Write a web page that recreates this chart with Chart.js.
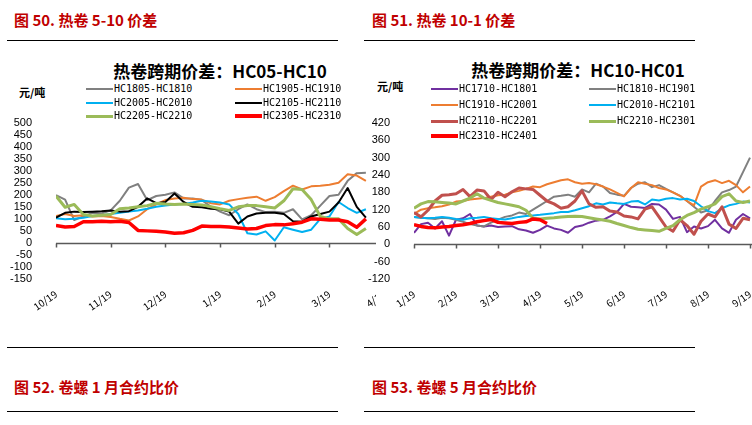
<!DOCTYPE html>
<html>
<head>
<meta charset="utf-8">
<script src="https://cdn.jsdelivr.net/npm/chart.js@4.4.0/dist/chart.umd.min.js"></script>
<style>
html, body { margin: 0; padding: 0; background: #fff; }
body { width: 752px; height: 425px; position: relative; overflow: hidden; font-family: "Noto Sans CJK SC", sans-serif; }
.hd { position: absolute; color: #c00000; font-weight: bold; font-size: 15px; line-height: 16px; white-space: nowrap; }
.rule { position: absolute; height: 0; border-top: 1.5px solid #000; }
.ttl { position: absolute; font-weight: bold; font-size: 17px; line-height: 20px; white-space: nowrap; transform: translateX(-50%); }
.unit { position: absolute; font-weight: bold; font-size: 11px; line-height: 14px; white-space: nowrap; }
.lg { position: absolute; font-family: "DejaVu Sans Mono", monospace; font-size: 10px; line-height: 12px; white-space: nowrap; }
.lg i { display: inline-block; width: 27px; vertical-align: middle; margin-right: 1px; }
.box { position: absolute; overflow: hidden; }
</style>
</head>
<body>
<div class="hd" style="left:14px;top:12px">图 50. 热卷 5-10 价差</div>
<div class="rule" style="left:7px;top:40px;width:331px"></div>
<div class="hd" style="left:372px;top:12px">图 51. 热卷 10-1 价差</div>
<div class="rule" style="left:364px;top:40px;width:331px"></div>

<div class="ttl" style="left:220px;top:61px">热卷跨期价差：HC05-HC10</div>
<div class="unit" style="left:19px;top:85px">元/吨</div>
<div class="ttl" style="left:578px;top:60px">热卷跨期价差：HC10-HC01</div>
<div class="unit" style="left:377px;top:79px">元/吨</div>

<div class="box" style="left:0;top:100px;width:376px;height:222px"><canvas id="c1" width="400" height="222"></canvas></div>
<div class="box" style="left:360px;top:100px;width:392px;height:222px"><canvas id="c2" width="420" height="222"></canvas></div>

<div class="rule" style="left:7px;top:347px;width:331px"></div>
<div class="rule" style="left:364px;top:347px;width:331px"></div>
<div class="hd" style="left:14px;top:379px">图 52. 卷螺 1 月合约比价</div>
<div class="hd" style="left:372px;top:379px">图 53. 卷螺 5 月合约比价</div>
<div class="rule" style="left:7px;top:411px;width:331px"></div>
<div class="rule" style="left:364px;top:411px;width:331px"></div>

<script>
// left chart: HC05-HC10 spreads, one point every ~1/6 month from 10/19
var leftMonths = ["10/19", "11/19", "12/19", "1/19", "2/19", "3/19", "4/19"];
var leftNames = ["HC1805-HC1810", "HC1905-HC1910", "HC2005-HC2010", "HC2105-HC2110", "HC2205-HC2210", "HC2305-HC2310"];
var hc1805 = [198, 180, 95, 110, 125, 122, 135, 175, 230, 245, 178, 195, 200, 210, 185, 185, 178, 150, 130, 115, 140, 160, 140, 128, 130, 125, 140, 98, 115, 155, 195, 200, 258, 290, 292];
var hc1905 = [112, 120, 112, 115, 110, 112, 108, 100, 93, 110, 140, 160, 178, 185, 188, 182, 180, 165, 160, 175, 182, 188, 192, 175, 190, 215, 238, 222, 235, 238, 242, 250, 285, 280, 258];
var hc2005 = [102, 98, 100, 105, 112, 115, 120, 125, 130, 135, 142, 150, 155, 160, 162, 168, 175, 172, 168, 160, 120, 40, 35, 48, 10, 65, 55, 45, 55, 100, 110, 170, 145, 125, 140];
var hc2105 = [105, 125, 130, 128, 130, 132, 135, 130, 132, 150, 185, 165, 170, 205, 170, 150, 148, 142, 140, 130, 80, 110, 122, 125, 125, 120, 90, 88, 110, 120, 130, 168, 228, 150, 105];
var hc2205 = [195, 148, 160, 118, 112, 115, 118, 142, 145, 150, 155, 165, 162, 160, 162, 160, 158, 150, 142, 135, 150, 155, 155, 150, 145, 175, 225, 222, 180, 110, 100, 100, 60, 35, 60];
var hc2305 = [72, 66, 68, 88, 88, 90, 88, 90, 85, 52, 50, 48, 45, 40, 42, 52, 70, 68, 68, 66, 62, 58, 60, 72, 76, 75, 80, 86, 100, 98, 95, 95, 88, 65, 100];

// right chart: HC10-HC01 spreads from 1/19
var rightMonths = ["1/19", "2/19", "3/19", "4/19", "5/19", "6/19", "7/19", "8/19", "9/19"];
var rightNames = ["HC1710-HC1801", "HC1810-HC1901", "HC1910-HC2001", "HC2010-HC2101", "HC2110-HC2201", "HC2210-HC2301", "HC2310-HC2401"];
var hc1710 = [40, 70, 75, 55, 80, 30, 85, 90, 105, 65, 62, 65, 60, 62, 63, 52, 48, 40, 50, 65, 55, 50, 40, 60, 65, 75, 82, 85, 97, 112, 140, 130, 128, 126, 140, 138, 120, 88, 95, 42, 62, 55, 63, 85, 55, 40, 85, 105, 90];
var hc1810 = [95, 92, 90, 88, 92, 90, 85, 78, 70, 65, 62, 75, 85, 95, 100, 110, 105, 120, 135, 150, 165, 168, 172, 165, 190, 180, 210, 200, 178, 172, 168, 195, 210, 215, 198, 205, 192, 180, 168, 150, 130, 110, 118, 150, 180, 188, 200, 250, 300];
var hc1910 = [105, 120, 125, 128, 132, 138, 148, 150, 155, 158, 160, 165, 170, 172, 180, 185, 192, 200, 198, 208, 215, 222, 225, 215, 210, 212, 208, 200, 190, 178, 166, 195, 215, 210, 205, 195, 190, 180, 168, 150, 135, 200, 215, 222, 212, 220, 205, 180, 200];
var hc2010 = [95, 92, 90, 92, 95, 92, 88, 85, 90, 92, 95, 90, 88, 86, 90, 95, 98, 100, 102, 105, 108, 112, 112, 118, 125, 132, 142, 138, 145, 142, 140, 148, 150, 138, 155, 152, 158, 160, 155, 158, 150, 132, 115, 108, 125, 135, 140, 148, 145];
var hc2110 = [110, 95, 118, 150, 170, 172, 175, 190, 165, 188, 185, 155, 180, 165, 182, 195, 192, 190, 170, 150, 140, 125, 130, 150, 185, 140, 128, 130, 115, 112, 98, 95, 88, 122, 130, 95, 60, 45, 85, 65, 35, 80, 105, 95, 130, 70, 55, 90, 85];
var hc2210 = [125, 140, 148, 147, 145, 143, 140, 150, 160, 175, 160, 152, 145, 140, 135, 130, 118, 90, 88, 90, 92, 95, 96, 97, 96, 92, 88, 84, 80, 72, 65, 58, 52, 50, 48, 45, 55, 65, 85, 100, 110, 122, 130, 140, 165, 175, 150, 145, 150];
var hc2310 = [68, 62, 58, 57, 60, 62, 65, 68, 72, 78, 82, 86, 76, 74, 72, 76, 78, 88, 85, 72];

var leftColors = ["#808080", "#ed7d31", "#00b0f0", "#000000", "#9bbb59", "#ff0000"];
var leftWidths = [2, 2, 2, 2, 3, 3.5];
var rightColors = ["#7030a0", "#808080", "#ed7d31", "#00b0f0", "#c0504d", "#9bbb59", "#ff0000"];
var rightWidths = [2, 2, 2, 2, 3, 3, 3.5];

// legend slots [x, y] of the line swatch
var leftSlots = [[86, 89], [235, 89], [86, 102.5], [235, 102.5], [86, 116], [235, 116]];
var rightSlots = [[431, 89], [589, 89], [431, 105], [589, 105], [431, 121], [589, 121], [431, 136]];

function toPoints(arr) {
    return arr.map(function (v, i) { return { x: i / 6, y: v }; });
}

function buildSets(series, names, colors, widths) {
    return series.map(function (s, i) {
        return {
            label: names[i],
            data: toPoints(s),
            borderColor: colors[i],
            borderWidth: widths[i],
            pointRadius: 0,
            tension: 0,
            fill: false,
            borderJoinStyle: 'round',
            order: series.length - i
        };
    });
}

function addLegend(names, colors, widths, slots) {
    names.forEach(function (n, i) {
        var d = document.createElement('div');
        d.className = 'lg';
        d.style.left = slots[i][0] + 'px';
        d.style.top = (slots[i][1] - 6) + 'px';
        d.innerHTML = '<i style="height:' + widths[i] + 'px;background:' + colors[i] + '"></i>' + n;
        document.body.appendChild(d);
    });
}

var zeroAxis = {
    id: 'zeroAxis',
    beforeDatasetsDraw: function (chart) {
        var ctx = chart.ctx, xs = chart.scales.x, ys = chart.scales.y, area = chart.chartArea;
        var y0 = Math.round(ys.getPixelForValue(0)) + 0.5;
        ctx.save();
        ctx.strokeStyle = '#595959';
        ctx.lineWidth = 1.5;
        ctx.beginPath();
        ctx.moveTo(area.left, y0);
        ctx.lineTo(area.right, y0);
        xs.ticks.forEach(function (t) {
            var x = Math.round(xs.getPixelForValue(t.value)) + 0.5;
            ctx.moveTo(x, y0);
            ctx.lineTo(x, y0 + 4);
        });
        ctx.stroke();
        ctx.restore();
    }
};

function makeChart(id, sets, months, yMin, yMax, yStep, xMax, axisW, padTop, padRight) {
    return new Chart(document.getElementById(id), {
        type: 'line',
        data: { datasets: sets },
        plugins: [zeroAxis],
        options: {
            responsive: false,
            animation: false,
            layout: { padding: { top: padTop, right: padRight, left: 0, bottom: 0 } },
            plugins: { legend: { display: false }, tooltip: { enabled: false } },
            scales: {
                x: {
                    type: 'linear', min: 0, max: xMax,
                    grid: { display: false, drawTicks: false },
                    border: { display: false },
                    afterFit: function (s) { s.height = 43; },
                    afterBuildTicks: function (s) {
                        s.ticks = months.map(function (m, i) { return { value: i }; });
                    },
                    ticks: {
                        autoSkip: false, maxRotation: 35, minRotation: 35, padding: 9,
                        color: '#000', font: { family: '"Noto Sans CJK SC"', size: 10 },
                        callback: function (v) { return months[v]; }
                    }
                },
                y: {
                    min: yMin, max: yMax,
                    grid: { display: false },
                    border: { display: false },
                    afterFit: function (s) { s.width = axisW; },
                    afterBuildTicks: function (s) {
                        var t = [];
                        for (var v = yMin; v <= yMax; v += yStep) t.push({ value: v });
                        s.ticks = t;
                    },
                    ticks: {
                        autoSkip: false, padding: 16, color: '#000',
                        font: { family: '"Liberation Sans", Arial', size: 11 }
                    }
                }
            }
        }
    });
}

makeChart('c1', buildSets([hc1805, hc1905, hc2005, hc2105, hc2205, hc2305], leftNames, leftColors, leftWidths),
    leftMonths, -150, 500, 50, 6, 56, 13, 14);
makeChart('c2', buildSets([hc1710, hc1810, hc1910, hc2010, hc2110, hc2210, hc2310], rightNames, rightColors, rightWidths),
    rightMonths, -120, 420, 60, 8.5, 54, 23, 9);

addLegend(leftNames, leftColors, leftWidths, leftSlots);
addLegend(rightNames, rightColors, rightWidths, rightSlots);
</script>
</body>
</html>
